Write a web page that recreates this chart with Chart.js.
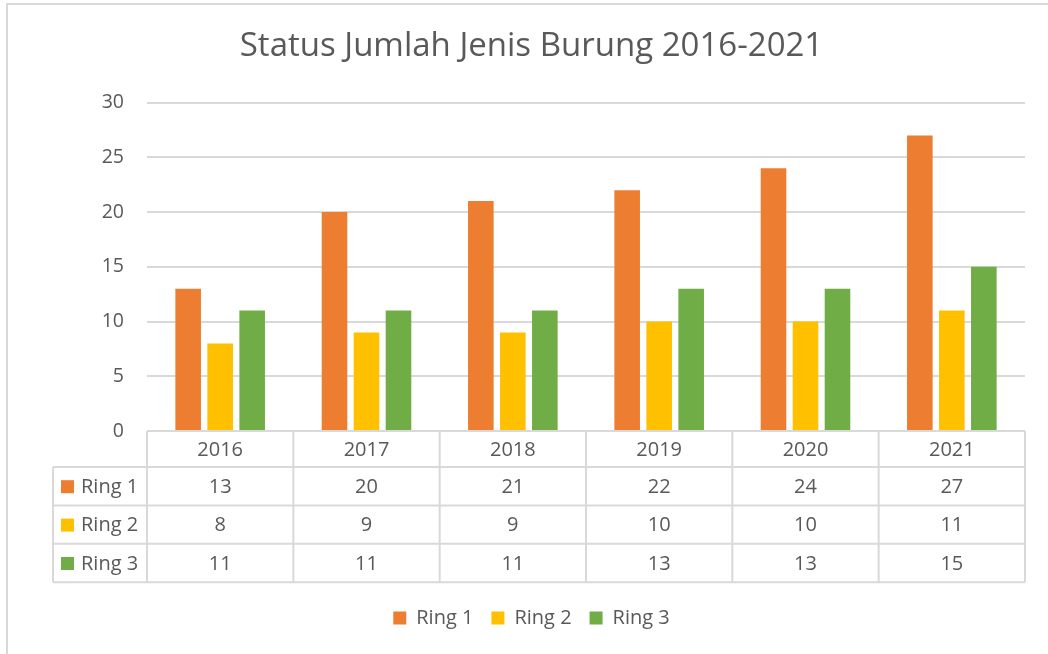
<!DOCTYPE html>
<html>
<head>
<meta charset="utf-8">
<script src="https://cdn.jsdelivr.net/npm/chart.js@4.4.1/dist/chart.umd.min.js"></script>
<style>
  html, body { margin: 0; padding: 0; background: #ffffff; }
  #wrap { width: 1048px; height: 654px; position: relative; }
  canvas { display: block; }
</style>
</head>
<body>
<div id="wrap"><canvas id="c" width="1048" height="654"></canvas></div>
<script>
const years = ['2016', '2017', '2018', '2019', '2020', '2021'];
const ring1 = [13, 20, 21, 22, 24, 27];
const ring2 = [8, 9, 9, 10, 10, 11];
const ring3 = [11, 11, 11, 13, 13, 15];
const seriesNames = ['Ring 1', 'Ring 2', 'Ring 3'];
const seriesColors = ['#ED7D31', '#FFC000', '#70AD47'];
const chartTitle = 'Status Jumlah Jenis Burung 2016-2021';

const TEXT = '#595959';
const LINE = '#d9d9d9';
Chart.defaults.font.family = "'Open Sans', 'DejaVu Sans', sans-serif";
Chart.defaults.color = TEXT;

const seriesData = [ring1, ring2, ring3];

const tablePlugin = {
  id: 'dataTable',
  beforeDraw(chart) {
    const ctx = chart.ctx;
    ctx.save();
    ctx.strokeStyle = LINE;
    ctx.lineWidth = 2;
    // outer chart frame (extends past the canvas to the right/bottom)
    ctx.beginPath();
    ctx.moveTo(1060, 4);
    ctx.lineTo(7, 4);
    ctx.lineTo(7, 670);
    ctx.stroke();
    ctx.restore();
  },
  afterDraw(chart) {
    const ctx = chart.ctx;
    const area = chart.chartArea;
    const xs = chart.scales.x;
    const n = chart.data.labels.length;
    const colW = (area.right - area.left) / n;
    const headTop = area.bottom;
    const headH = 36;
    const rowH = 38.4;
    const legendLeft = 53;
    const rowsTop = headTop + headH;
    const bottom = rowsTop + rowH * seriesData.length;

    ctx.save();
    ctx.strokeStyle = LINE;
    ctx.lineWidth = 2;
    ctx.beginPath();
    ctx.moveTo(area.left, headTop); ctx.lineTo(area.right, headTop);
    for (let r = 0; r <= seriesData.length; r++) {
      const y = rowsTop + r * rowH;
      ctx.moveTo(legendLeft, y); ctx.lineTo(area.right, y);
    }
    ctx.moveTo(legendLeft, rowsTop); ctx.lineTo(legendLeft, bottom);
    for (let i = 0; i <= n; i++) {
      const x = area.left + i * colW;
      ctx.moveTo(x, headTop); ctx.lineTo(x, bottom);
    }
    ctx.stroke();

    ctx.fillStyle = TEXT;
    ctx.font = "20px 'Open Sans', 'DejaVu Sans', sans-serif";
    ctx.textAlign = 'center';
    ctx.textBaseline = 'middle';
    chart.data.labels.forEach((lab, i) => {
      const cx = xs.getPixelForValue(i);
      ctx.fillText(lab, cx, headTop + headH / 2 + 1);
    });
    seriesData.forEach((arr, r) => {
      const cy = rowsTop + r * rowH + rowH / 2 + 1;
      arr.forEach((v, i) => {
        const cx = xs.getPixelForValue(i);
        ctx.fillStyle = TEXT;
        ctx.textAlign = 'center';
        ctx.fillText(String(v), cx, cy);
      });
      ctx.fillStyle = chart.data.datasets[r].backgroundColor;
      ctx.fillRect(61, cy - 7, 13, 13);
      ctx.fillStyle = TEXT;
      ctx.textAlign = 'left';
      ctx.fillText(chart.data.datasets[r].label, 81, cy);
    });
    ctx.restore();
  }
};

new Chart(document.getElementById('c'), {
  type: 'bar',
  data: {
    labels: years,
    datasets: seriesData.map((d, i) => ({
      label: seriesNames[i],
      data: d,
      backgroundColor: seriesColors[i],
      borderWidth: 0,
      categoryPercentage: 0.656,
      barPercentage: 0.8
    }))
  },
  options: {
    responsive: false,
    animation: false,
    devicePixelRatio: 1,
    layout: { padding: { left: 38, right: 23, top: 0, bottom: 16 } },
    plugins: {
      title: {
        display: true,
        text: chartTitle,
        color: TEXT,
        font: { size: 33, weight: 'normal' },
        padding: { top: 27, bottom: 36 }
      },
      legend: {
        display: true,
        position: 'bottom',
        labels: {
          color: TEXT,
          font: { size: 20 },
          boxWidth: 13,
          boxHeight: 13,
          padding: 18
        }
      },
      tooltip: { enabled: false }
    },
    scales: {
      x: {
        type: 'category',
        ticks: { display: false },
        grid: { display: false },
        border: { display: false },
        afterFit(scale) { scale.height = 159; }
      },
      y: {
        min: 0,
        max: 30,
        ticks: { stepSize: 5, color: TEXT, font: { size: 19.5 }, padding: 23 },
        grid: { color: LINE, lineWidth: 2, drawTicks: false },
        border: { display: false },
        afterFit(scale) { scale.width = 109; }
      }
    }
  },
  plugins: [tablePlugin]
});
</script>
</body>
</html>
